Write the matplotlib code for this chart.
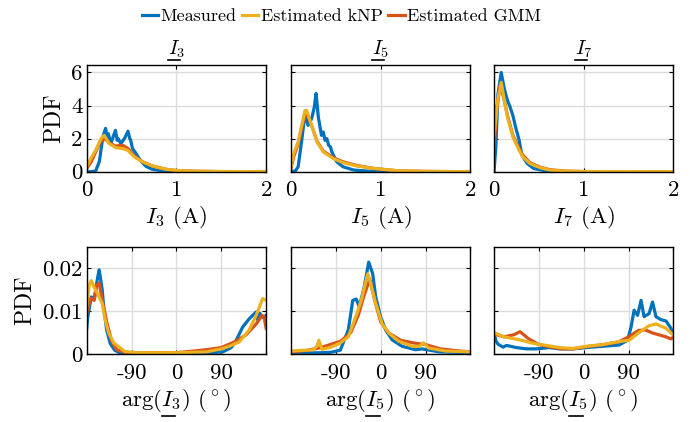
import matplotlib
matplotlib.use("Agg")
import matplotlib.pyplot as plt
from matplotlib.lines import Line2D

plt.rcParams['font.family'] = 'serif'
plt.rcParams['font.serif'] = ['cmr10']
plt.rcParams['mathtext.fontset'] = 'cm'
plt.rcParams['axes.unicode_minus'] = False
plt.rcParams['axes.formatter.use_mathtext'] = True

BLUE = '#0072BD'
RED = '#D95319'
YELLOW = '#EDB120'

# ---- magnitude PDFs (top row) ----
i3_meas_x = [0, 0.05, 0.10, 0.14, 0.18, 0.21, 0.23, 0.24, 0.27, 0.30, 0.32, 0.34, 0.35, 0.38, 0.42, 0.46, 0.48, 0.49, 0.51, 0.55, 0.58, 0.62, 0.66, 0.73, 0.84, 1.0, 1.3, 2.0]
i3_meas_y = [0, 0.0, 0.05, 0.6, 2.1, 2.62, 2.0, 2.3, 1.71, 2.2, 2.5, 1.9, 2.0, 1.7, 2.0, 2.45, 2.0, 1.9, 1.4, 1.1, 0.83, 0.55, 0.33, 0.15, 0.05, 0.01, 0.0, 0.0]
i3_knp_x = [0, 0.046, 0.10, 0.16, 0.195, 0.25, 0.325, 0.40, 0.455, 0.53, 0.62, 0.73, 0.88, 1.0, 1.2, 1.5, 2.0]
i3_knp_y = [0.3, 0.8, 1.3, 2.0, 2.2, 1.7, 1.45, 1.4, 1.3, 0.9, 0.6, 0.35, 0.15, 0.08, 0.03, 0.01, 0.0]
i3_gmm_x = [0, 0.05, 0.10, 0.15, 0.20, 0.25, 0.32, 0.40, 0.46, 0.53, 0.62, 0.73, 0.88, 1.0, 1.2, 1.5, 2.0]
i3_gmm_y = [0.2, 0.6, 1.2, 1.8, 2.0, 1.75, 1.55, 1.6, 1.4, 0.95, 0.6, 0.35, 0.15, 0.07, 0.03, 0.01, 0.0]

i5_meas_x = [0, 0.05, 0.08, 0.12, 0.156, 0.19, 0.23, 0.26, 0.28, 0.305, 0.34, 0.36, 0.38, 0.40, 0.42, 0.44, 0.455, 0.51, 0.58, 0.7, 0.9, 1.2, 2.0]
i5_meas_y = [0, 0.05, 0.3, 1.9, 3.5, 2.8, 3.2, 3.9, 4.73, 3.3, 2.2, 2.4, 1.9, 2.0, 1.6, 1.5, 1.2, 0.6, 0.3, 0.1, 0.02, 0.0, 0.0]
i5_knp_x = [0, 0.03, 0.08, 0.12, 0.156, 0.175, 0.23, 0.29, 0.36, 0.47, 0.58, 0.73, 0.92, 1.2, 1.5, 2.0]
i5_knp_y = [0.3, 1.1, 1.8, 2.8, 3.7, 3.7, 2.8, 1.8, 1.2, 0.8, 0.55, 0.35, 0.2, 0.05, 0.02, 0.0]
i5_gmm_x = [0, 0.03, 0.08, 0.12, 0.17, 0.23, 0.29, 0.36, 0.47, 0.58, 0.73, 0.92, 1.2, 1.5, 2.0]
i5_gmm_y = [0.2, 0.9, 1.7, 2.7, 3.6, 2.8, 1.85, 1.25, 0.85, 0.6, 0.38, 0.2, 0.05, 0.02, 0.0]

i7_meas_x = [0, 0.02, 0.044, 0.08, 0.115, 0.15, 0.18, 0.21, 0.24, 0.28, 0.31, 0.37, 0.44, 0.6, 0.8, 2.0]
i7_meas_y = [0, 1.5, 4.7, 6.0, 5.0, 4.3, 3.9, 3.4, 2.7, 1.9, 1.0, 0.5, 0.2, 0.03, 0.0, 0.0]
i7_knp_x = [0, 0.04, 0.08, 0.115, 0.15, 0.21, 0.27, 0.32, 0.40, 0.51, 0.62, 0.8, 1.0, 2.0]
i7_knp_y = [2.2, 4.3, 5.4, 4.3, 3.3, 2.1, 1.4, 0.9, 0.5, 0.25, 0.1, 0.03, 0.01, 0.0]
i7_gmm_x = [0, 0.035, 0.07, 0.11, 0.15, 0.21, 0.27, 0.32, 0.40, 0.51, 0.62, 0.8, 1.0, 2.0]
i7_gmm_y = [1.5, 4.0, 5.3, 4.4, 3.4, 2.2, 1.5, 1.0, 0.55, 0.28, 0.12, 0.04, 0.01, 0.0]

# ---- phase angle PDFs (bottom row) ----
a3_meas_x = [-180, -178, -171, -165, -158, -155, -149, -146, -140, -133, -124, -113, -90, 0, 60, 93, 110, 120, 133, 146, 160, 163, 167, 174, 180]
a3_meas_y = [0.006, 0.0086, 0.0133, 0.0128, 0.0179, 0.0196, 0.015, 0.011, 0.0056, 0.0025, 0.0009, 0.0002, 0.0, 0.0001, 0.0002, 0.0005, 0.0015, 0.0032, 0.0063, 0.0082, 0.0098, 0.008, 0.0095, 0.0085, 0.009]
a3_knp_x = [-180, -175, -171, -165, -158, -149, -143, -136, -126, -117, -104, -80, 0, 60, 90, 106, 126, 146, 160, 173, 180]
a3_knp_y = [0.011, 0.016, 0.0171, 0.0155, 0.014, 0.0118, 0.008, 0.0049, 0.0026, 0.0018, 0.0006, 0.0003, 0.0003, 0.0005, 0.0012, 0.0018, 0.0028, 0.0056, 0.009, 0.0129, 0.0125]
a3_gmm_x = [-180, -172, -165, -160, -155, -148, -140, -130, -120, -100, 0, 60, 90, 120, 140, 160, 172, 176, 180]
a3_gmm_y = [0.0095, 0.013, 0.0125, 0.016, 0.0165, 0.012, 0.0075, 0.003, 0.001, 0.0003, 0.0003, 0.001, 0.0015, 0.003, 0.0045, 0.007, 0.009, 0.0085, 0.006]

a5_meas_x = [-180, -120, -100, -81, -65, -56, -49, -43, -33, -24, -16, -10, 0, 10, 23, 43, 70, 83, 117, 180]
a5_meas_y = [0.0002, 0.0003, 0.0004, 0.0009, 0.0056, 0.0125, 0.0128, 0.011, 0.0156, 0.0214, 0.0187, 0.0133, 0.0086, 0.0056, 0.0033, 0.0018, 0.001, 0.0012, 0.0005, 0.0003]
a5_knp_x = [-180, -135, -128, -124, -120, -118, -102, -82, -65, -49, -39, -26, -20, -10, 3, 17, 36, 63, 78, 86, 96, 130, 180]
a5_knp_y = [0.0007, 0.001, 0.0018, 0.0032, 0.0018, 0.0011, 0.0015, 0.0025, 0.004, 0.009, 0.0125, 0.0187, 0.0164, 0.0118, 0.007, 0.0048, 0.003, 0.0018, 0.0018, 0.0026, 0.0014, 0.0007, 0.0005]
a5_gmm_x = [-180, -150, -120, -80, -60, -45, -35, -22, -12, 0, 15, 40, 70, 90, 120, 150, 180]
a5_gmm_y = [0.0005, 0.0008, 0.0015, 0.003, 0.005, 0.009, 0.013, 0.0175, 0.0125, 0.0075, 0.005, 0.0032, 0.0025, 0.0022, 0.0012, 0.0008, 0.0005]

a7_meas_x = [-180, -176, -172, -162, -155, -135, -115, -95, -69, -49, -22, 5, 38, 71, 88, 95, 101, 108, 115, 121, 131, 138, 145, 155, 165, 175, 180]
a7_meas_y = [0.0049, 0.003, 0.0023, 0.0016, 0.002, 0.0015, 0.0012, 0.0012, 0.0015, 0.0012, 0.0012, 0.0015, 0.0018, 0.0021, 0.0032, 0.0063, 0.0102, 0.009, 0.0125, 0.0087, 0.0094, 0.0121, 0.0087, 0.008, 0.0077, 0.006, 0.0045]
a7_knp_x = [-180, -160, -128, -102, -75, -49, -22, 5, 38, 71, 91, 111, 131, 145, 165, 178, 180]
a7_knp_y = [0.005, 0.004, 0.0033, 0.0025, 0.002, 0.0015, 0.0013, 0.0018, 0.0022, 0.0029, 0.0032, 0.005, 0.0066, 0.007, 0.006, 0.0046, 0.0044]
a7_gmm_x = [-180, -160, -140, -128, -110, -90, -70, -45, -20, 5, 40, 70, 90, 110, 124, 138, 150, 165, 175, 180]
a7_gmm_y = [0.0047, 0.004, 0.0045, 0.0052, 0.0035, 0.0022, 0.0017, 0.0012, 0.0012, 0.0017, 0.0022, 0.0028, 0.004, 0.0055, 0.0056, 0.0049, 0.0045, 0.004, 0.0035, 0.004]

top_panels = [
    (i3_meas_x, i3_meas_y, i3_knp_x, i3_knp_y, i3_gmm_x, i3_gmm_y, r'$I_3$', r'$I_3$ (A)'),
    (i5_meas_x, i5_meas_y, i5_knp_x, i5_knp_y, i5_gmm_x, i5_gmm_y, r'$I_5$', r'$I_5$ (A)'),
    (i7_meas_x, i7_meas_y, i7_knp_x, i7_knp_y, i7_gmm_x, i7_gmm_y, r'$I_7$', r'$I_7$ (A)'),
]
bottom_panels = [
    (a3_meas_x, a3_meas_y, a3_knp_x, a3_knp_y, a3_gmm_x, a3_gmm_y, r'arg($I_3$) ($^\circ$)'),
    (a5_meas_x, a5_meas_y, a5_knp_x, a5_knp_y, a5_gmm_x, a5_gmm_y, r'arg($I_5$) ($^\circ$)'),
    (a7_meas_x, a7_meas_y, a7_knp_x, a7_knp_y, a7_gmm_x, a7_gmm_y, r'arg($I_5$) ($^\circ$)'),
]

fig = plt.figure(figsize=(6.9, 4.22), dpi=100)
lefts = [0.1257, 0.4217, 0.716]
width = 0.26
lw = 2.3
TITLE_FS = 14.5
LABEL_FS = 16.5
TICK_FS = 16.5

# texts whose "I" gets an underline (phasor notation): (text, prefix, fontsize, gap)
to_underline = []


def style(ax):
    ax.grid(True, color='#dcdcdc', linewidth=1.0)
    ax.set_axisbelow(True)
    ax.tick_params(direction='in', top=True, right=True, labelsize=TICK_FS, length=3, width=0.8)
    ax.tick_params(axis='x', pad=6.5)
    ax.tick_params(axis='y', pad=3)
    for s in ax.spines.values():
        s.set_linewidth(1.0)


for k, (mx, my, kx, ky, gx, gy, title, xlabel) in enumerate(top_panels):
    ax = fig.add_axes([lefts[k], 0.5931, width, 0.2528])
    l1, = ax.plot(mx, my, color=BLUE, lw=lw)
    l3, = ax.plot(gx, gy, color=RED, lw=lw)
    l2, = ax.plot(kx, ky, color=YELLOW, lw=lw)
    ax.set_xlim(0, 2)
    ax.set_ylim(0, 6.45)
    ax.set_xticks([0, 1, 2])
    ax.set_xticklabels(['0', '1', '2'])
    ax.set_yticks([0, 2, 4, 6])
    if k == 0:
        ax.set_yticklabels(['0', '2', '4', '6'])
        ax.set_ylabel('PDF', fontsize=17, labelpad=4)
    else:
        ax.set_yticklabels([])
    t = ax.text(0.5, 1.10, title, transform=ax.transAxes, ha='center', va='baseline',
                fontsize=TITLE_FS)
    to_underline.append((t, '', TITLE_FS, 0))
    ax.set_xlabel(xlabel, fontsize=LABEL_FS, labelpad=3)
    style(ax)
    if k == 0:
        handles = [l1, l2, l3]

for k, (mx, my, kx, ky, gx, gy, xlabel) in enumerate(bottom_panels):
    ax = fig.add_axes([lefts[k], 0.1611, width, 0.2543])
    ax.plot(mx, my, color=BLUE, lw=lw)
    ax.plot(gx, gy, color=RED, lw=lw)
    ax.plot(kx, ky, color=YELLOW, lw=lw)
    ax.set_xlim(-180, 180)
    ax.set_ylim(0, 0.025)
    ax.set_xticks([-180, -90, 0, 90, 180])
    ax.set_xticklabels(['', '-90', '0', '90', ''])
    ax.set_yticks([0, 0.01, 0.02])
    if k == 0:
        ax.set_yticklabels(['0', '0.01', '0.02'])
        ax.set_ylabel('PDF', fontsize=17, labelpad=4)
    else:
        ax.set_yticklabels([])
    xl = ax.set_xlabel(xlabel, fontsize=LABEL_FS, labelpad=3)
    to_underline.append((xl, 'arg(', LABEL_FS, 2))
    style(ax)

fig.legend(handles, ['Measured', 'Estimated kNP', 'Estimated GMM'],
           loc='upper center', bbox_to_anchor=(0.495, 1.005), ncol=3, frameon=False,
           fontsize=13, handlelength=0.9, handletextpad=0.15, columnspacing=0.3,
           borderaxespad=0.2)

# mathtext has no \underline, so draw the bar under the "I" by hand
fig.canvas.draw()
renderer = fig.canvas.get_renderer()
H = fig.bbox.height
W = fig.bbox.width
for txt, prefix, fs, gap in to_underline:
    bb = txt.get_window_extent(renderer)
    x0 = bb.x0
    if prefix:
        tmp = fig.text(0, 0, prefix, fontsize=fs)
        x0 += tmp.get_window_extent(renderer).width
        tmp.remove()
    tmp = fig.text(0, 0, r'$I$', fontsize=fs)
    wI = tmp.get_window_extent(renderer).width
    tmp.remove()
    y = bb.y0 - gap
    fig.add_artist(Line2D([x0 / W, (x0 + wI) / W], [y / H, y / H], color='black', lw=1.2,
                          transform=fig.transFigure))

fig.savefig('out.png', dpi=100)
